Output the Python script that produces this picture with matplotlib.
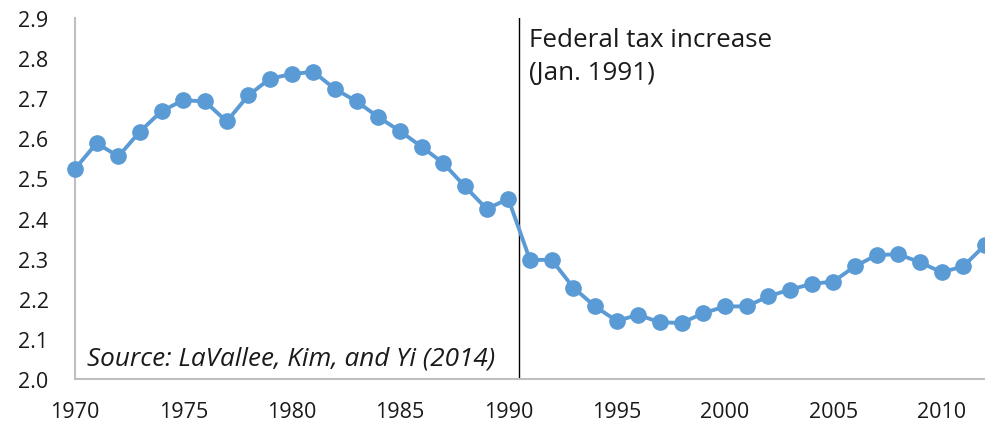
import matplotlib
matplotlib.use("Agg")
import matplotlib.pyplot as plt

years = list(range(1970, 2013))
values = [2.524, 2.588, 2.555, 2.617, 2.668, 2.695, 2.692, 2.642, 2.707, 2.749,
          2.760, 2.766, 2.723, 2.692, 2.653, 2.618, 2.579, 2.538, 2.480, 2.424,
          2.449, 2.297, 2.297, 2.228, 2.181, 2.145, 2.160, 2.141, 2.140, 2.164,
          2.181, 2.181, 2.206, 2.223, 2.237, 2.243, 2.281, 2.309, 2.311, 2.291,
          2.266, 2.281, 2.334]
xticks = list(range(1970, 2011, 5))
yticks = [2.0, 2.1, 2.2, 2.3, 2.4, 2.5, 2.6, 2.7, 2.8, 2.9]
event_x = 1990.5
event_label = "Federal tax increase\n(Jan. 1991)"
source_label = "Source: LaVallee, Kim, and Yi (2014)"

plt.rcParams['font.family'] = ['Open Sans', 'DejaVu Sans']

fig = plt.figure(figsize=(9.85, 4.27), dpi=100)
ax = fig.add_axes([75/985, 1-380/427, 1-75/985, (380-19)/427])

ax.plot(years, values, color='#5B9BD5', lw=2.8, marker='o', ms=11,
        clip_on=False, zorder=3)
ax.axvline(event_x, color='black', lw=1.0, zorder=2)

ax.set_xlim(1970, 2012)
ax.set_ylim(2.0, 2.9)
ax.set_xticks(xticks)
ax.set_yticks(yticks)
ax.set_yticklabels([f"{v:.1f}" for v in yticks])
ax.tick_params(length=0, labelsize=15.5, colors='#1a1a1a')
ax.tick_params(axis='y', pad=19)
ax.tick_params(axis='x', pad=16)

for s in ['top', 'right']:
    ax.spines[s].set_visible(False)
for s in ['left', 'bottom']:
    ax.spines[s].set_color('#BFBFBF')
    ax.spines[s].set_linewidth(1.5)

ax.text(event_x + 0.45, 2.878, event_label, fontsize=18.7, va='top', ha='left',
        color='#1a1a1a', linespacing=1.42)
ax.text(1970.55, 2.035, source_label, fontsize=18.8, style='italic',
        va='baseline', ha='left', color='#1a1a1a')

fig.savefig("out.png", dpi=100)
